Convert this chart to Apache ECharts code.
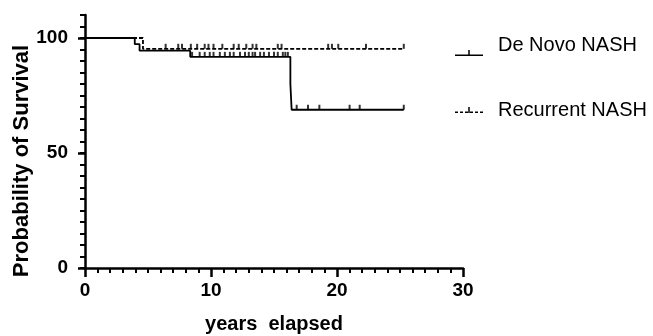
<!DOCTYPE html>
<html>
<head>
<meta charset="utf-8">
<script src="https://cdn.jsdelivr.net/npm/echarts@6/dist/echarts.min.js"></script>
<style>
  html, body { margin: 0; padding: 0; background: #fff; }
  #chart { width: 653px; height: 336px; }
</style>
</head>
<body>
<div id="chart"></div>
<script>
// survival curves: step times and survival (%) after each step
const deNovoTimes = [0, 3.95, 4.33, 8.35, 16.3, 16.4, 25.3];
const deNovoSurv = [100, 97.3, 94.5, 91.8, 80, 68.8, 68.8];
const deNovoCensored = [8.5, 9.1, 9.5, 9.9, 10.2, 10.7, 11.1, 11.5, 11.8, 12.3, 12.7, 13.0, 13.3, 13.5, 13.9, 14.2, 14.6, 15.0, 15.3, 15.7, 15.9, 16.1, 16.8, 17.7, 18.6, 21.0, 21.8, 25.3];

const recurrentTimes = [0, 4.6, 25.3];
const recurrentSurv = [100, 95.3, 95.3];
const recurrentCensored = [6.4, 7.4, 7.7, 8.4, 8.9, 9.5, 9.8, 10.2, 10.9, 11.8, 12.2, 12.8, 13.3, 13.6, 15.3, 15.6, 19.3, 19.6, 20.1, 22.3, 25.3];

const xTicks = [0, 10, 20, 30];
const yTicks = [0, 50, 100];

const FONT = 'Liberation Sans, Arial, sans-serif';

function survAt(times, surv, t) {
  let v = surv[0];
  for (let i = 0; i < times.length; i++) {
    if (times[i] <= t) v = surv[i];
  }
  return v;
}

// legend icons (the De Novo one sits low, below its label)
const solidIcon = 'path://M0,0M28,0M0,19.5L28,19.5L28,21L0,21ZM13.25,15L14.75,15L14.75,19.5L13.25,19.5Z';
const dashedIcon = 'path://M0,4.5L3,4.5L3,6L0,6ZM5,4.5L8,4.5L8,6L5,6ZM10,4.5L13,4.5L13,6L10,6Z' +
  'M13.25,0L14.75,0L14.75,6L13.25,6ZM15,4.5L18,4.5L18,6L15,6ZM20,4.5L23,4.5L23,6L20,6ZM25,4.5L28,4.5L28,6L25,6Z';

const chart = echarts.init(document.getElementById('chart'));

const option = {
  animation: false,
  grid: { left: 85, right: 190, top: 15, bottom: 68, containLabel: false, outerBoundsMode: 'none' },
  legend: [
    {
      data: [{ name: 'De Novo NASH', icon: solidIcon }],
      left: 455, top: 35, padding: 0,
      itemWidth: 28, itemHeight: 21,
      selectedMode: false,
      textStyle: { fontSize: 20, fontFamily: FONT, color: '#000', padding: [0, 0, 0, 10] }
    },
    {
      data: [{ name: 'Recurrent NASH', icon: dashedIcon }],
      left: 455, top: 100, padding: 0,
      itemWidth: 28, itemHeight: 6,
      selectedMode: false,
      textStyle: { fontSize: 20, fontFamily: FONT, color: '#000', padding: [0, 0, 0, 10] }
    }
  ],
  xAxis: {
    type: 'value',
    min: xTicks[0], max: xTicks[xTicks.length - 1], interval: 10,
    name: 'years  elapsed',
    nameLocation: 'middle',
    nameGap: 46,
    nameTextStyle: { fontSize: 20, fontWeight: 'bold', fontFamily: FONT, color: '#000' },
    axisLine: { lineStyle: { color: '#000', width: 2.5 } },
    axisTick: { length: 9, lineStyle: { color: '#000', width: 2.5 } },
    minorTick: { show: true, splitNumber: 10, length: 5, lineStyle: { color: '#000', width: 2 } },
    axisLabel: { fontSize: 19, fontWeight: 'bold', fontFamily: FONT, color: '#000', margin: 13 },
    splitLine: { show: false }
  },
  yAxis: [
    {
      type: 'value', min: 0, max: 110, interval: 5,
      axisLine: { show: true, lineStyle: { color: '#000', width: 2.5 } },
      axisTick: { length: 5, lineStyle: { color: '#000', width: 2 } },
      axisLabel: { show: false },
      splitLine: { show: false }
    },
    {
      type: 'value', min: 0, max: 110, interval: 50,
      position: 'left', offset: 0,
      axisLine: { show: false },
      axisTick: { length: 7, customValues: yTicks, lineStyle: { color: '#000', width: 2.5 } },
      axisLabel: {
        customValues: yTicks,
        fontSize: 19, fontWeight: 'bold', fontFamily: FONT, color: '#000', margin: 17
      },
      splitLine: { show: false }
    }
  ],
  graphic: [
    {
      type: 'text', x: 22, y: 161, rotation: Math.PI / 2,
      style: {
        text: 'Probability of Survival', fill: '#000',
        font: 'bold 22px ' + FONT, align: 'center', verticalAlign: 'middle'
      }
    }
  ],
  series: [
    {
      name: 'De Novo NASH', type: 'line', step: 'end',
      symbol: 'none', showSymbol: false,
      data: deNovoTimes.map((t, i) => [t, deNovoSurv[i]]),
      itemStyle: { color: '#000' },
      lineStyle: { color: '#000', width: 1.8 }
    },
    {
      name: 'Recurrent NASH', type: 'line', step: 'end',
      symbol: 'none', showSymbol: false,
      data: recurrentTimes.map((t, i) => [t, recurrentSurv[i]]),
      itemStyle: { color: '#000' },
      lineStyle: { color: '#000', width: 1.8, type: [4, 2] }
    },
    {
      name: 'deNovoCens', type: 'scatter',
      symbol: 'rect', symbolSize: [2, 5], symbolOffset: [0, -2.5],
      itemStyle: { color: '#000' },
      data: deNovoCensored.map(t => [t, survAt(deNovoTimes, deNovoSurv, t)])
    },
    {
      name: 'recurrentCens', type: 'scatter',
      symbol: 'rect', symbolSize: [2, 5], symbolOffset: [0, -2.5],
      itemStyle: { color: '#000' },
      data: recurrentCensored.map(t => [t, survAt(recurrentTimes, recurrentSurv, t)])
    }
  ]
};

chart.setOption(option);
</script>
</body>
</html>
